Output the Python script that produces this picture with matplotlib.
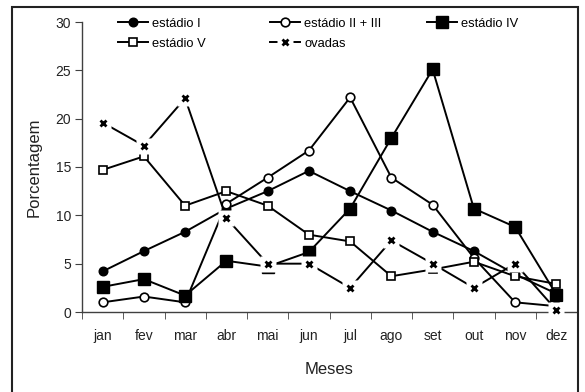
import matplotlib
matplotlib.use('Agg')
import matplotlib.pyplot as plt
from matplotlib.lines import Line2D
from matplotlib.legend_handler import HandlerTuple
from matplotlib.patches import Rectangle
import numpy as np

plt.rcParams['font.family'] = ['Liberation Sans', 'DejaVu Sans']

months = ['jan', 'fev', 'mar', 'abr', 'mai', 'jun', 'jul', 'ago', 'set', 'out', 'nov', 'dez']
est_I = [4.2, 6.3, 8.3, 10.7, 12.5, 14.6, 12.5, 10.5, 8.3, 6.3, 3.9, 1.9]
est_II_III = [1.0, 1.6, 1.0, 11.2, 13.9, 16.7, 22.2, 13.9, 11.1, 5.6, 1.0, 0.6]
est_IV = [2.6, 3.4, 1.7, 5.3, 4.7, 6.2, 10.7, 18.0, 25.1, 10.7, 8.8, 1.8]
est_V = [14.7, 16.1, 11.0, 12.5, 11.0, 8.0, 7.3, 3.7, 4.4, 5.2, 3.7, 2.9]
ovadas = [19.6, 17.2, 22.1, 9.7, 5.0, 5.0, 2.5, 7.4, 5.0, 2.5, 5.0, 0.2]
labels = ['estádio I', 'estádio II + III', 'estádio IV', 'estádio V', 'ovadas']
yticks = [0, 5, 10, 15, 20, 25, 30]

W, H = 585, 392
fig = plt.figure(figsize=(W / 100, H / 100), dpi=100)
ax = fig.add_axes([82 / W, 1 - 312 / H, 495 / W, 290 / H])
x = np.arange(len(months))

lw = 1.4
common = dict(color='black', lw=lw, clip_on=False)
h1, = ax.plot(x, est_I, marker='o', ms=6.2, mfc='black', mec='black', zorder=3, **common)
h2, = ax.plot(x, est_II_III, marker='o', ms=6.2, mfc='white', mec='black', mew=1.2, zorder=4, **common)
h3, = ax.plot(x, est_IV, marker='s', ms=8, mfc='black', mec='black', zorder=5, **common)
h4, = ax.plot(x, est_V, marker='s', ms=6.2, mfc='white', mec='black', mew=1.2, zorder=6, **common)
h5l, = ax.plot(x, ovadas, zorder=7, **common)
h5w, = ax.plot(x, ovadas, ls='none', marker='s', ms=11, mfc='white', mec='none', zorder=8, clip_on=False)
h5x, = ax.plot(x, ovadas, ls='none', marker='x', ms=4.8, mew=2, color='black', zorder=9, clip_on=False)

ax.set_xlim(-0.5, 11.5)
ax.set_ylim(0, 30)
for s in ['top', 'right']:
    ax.spines[s].set_visible(False)
for s in ['left', 'bottom']:
    ax.spines[s].set_color('#404040')
    ax.spines[s].set_linewidth(1.0)

ax.set_xticks(x)
ax.set_xticklabels(months)
ax.set_xticks(np.arange(-0.5, 12, 1), minor=True)
ax.tick_params(axis='x', which='major', length=0, pad=12, labelsize=10, colors='#222222')
ax.tick_params(axis='x', which='minor', length=5, direction='out', color='#404040')
ax.set_yticks(yticks)
ax.tick_params(axis='y', length=5, pad=3, labelsize=10, color='#404040', labelcolor='#222222')

ax.set_xlabel('Meses', fontsize=12, color='#222222', va='center')
ax.xaxis.set_label_coords(0.5, -0.2)
ax.set_ylabel('Porcentagem', fontsize=12, color='#222222', va='center')
ax.yaxis.set_label_coords(-0.097, 0.5)

handles = [h1, h2, h3, h4, (h5l, h5w, h5x)]
pos = [(118, 24), (270, 24), (427, 24), (118, 44), (270, 44)]
for hd, lab, (px, py) in zip(handles, labels, pos):
    fig.legend([hd], [lab], loc='center left', bbox_to_anchor=(px / W, 1 - py / H),
               frameon=False, borderpad=0, borderaxespad=0, handlelength=2.35,
               handletextpad=0.3, numpoints=1, fontsize=9.3,
               handler_map={tuple: HandlerTuple(ndivide=1)})

fig.patches.append(Rectangle((12 / W, -0.05), 566 / W, 1.05 - 7 / H, transform=fig.transFigure,
                             fill=False, lw=1.5, ec='#222222'))

fig.savefig('out.png', dpi=100)
